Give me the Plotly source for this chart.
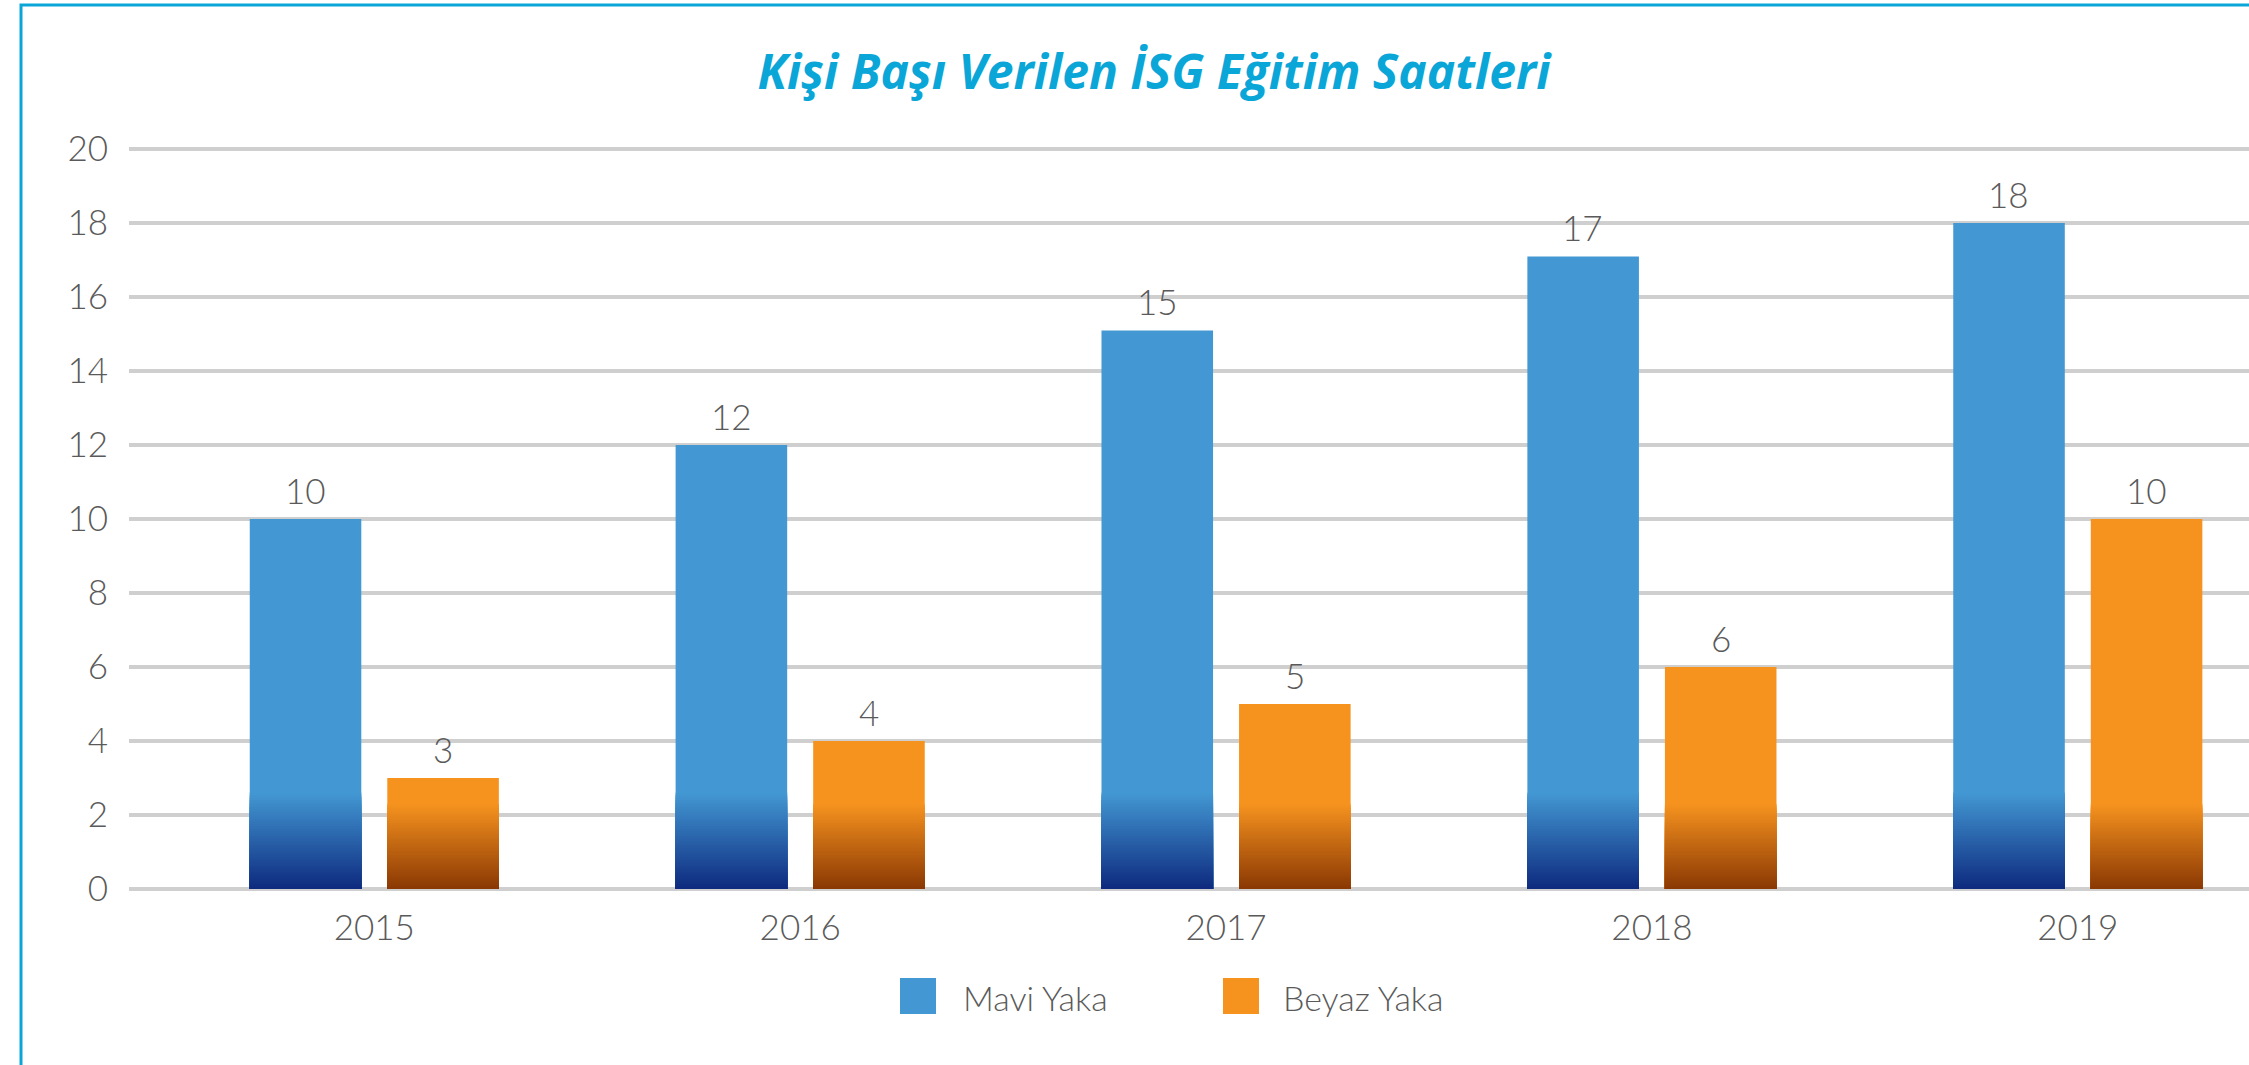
import plotly.graph_objects as go

# ---- data ----
years = ["2015", "2016", "2017", "2018", "2019"]
mavi_yaka = [10, 12, 15.1, 17.1, 18]
beyaz_yaka = [3, 4, 5, 6, 10]
series_names = ["Mavi Yaka", "Beyaz Yaka"]
title_text = "Kişi Başı Verilen İSG Eğitim Saatleri"
y_ticks = [0, 2, 4, 6, 8, 10, 12, 14, 16, 18, 20]

# ---- style ----
W, H = 2249, 1065
ML, MR, MT, MB = 129, 0, 148, 176
PW, PH = W - ML - MR, H - MT - MB
BLUE, BLUE_DARK = "#4398D3", "#0E2A7E"
ORANGE, ORANGE_DARK = "#F6931F", "#8A3804"
GRID = "#CFCFCF"
TXT = "#5A5A5A"
CYAN = "#0BA6D8"
TICKFONT = dict(family="Lato, Open Sans, sans-serif", size=35, color=TXT, weight=300)
N_SEG = 40


def hex2rgb(h):
    h = h.lstrip("#")
    return tuple(int(h[i:i + 2], 16) for i in (0, 2, 4))


def mix(c1, c2, t):
    a, b = hex2rgb(c1), hex2rgb(c2)
    return "rgb(%d,%d,%d)" % tuple(round(a[i] + (b[i] - a[i]) * t) for i in range(3))


def px_x(px):
    return (px - ML) / PW


def px_y(py):
    return (MT + PH - py) / PH


fig = go.Figure()

specs = [
    (series_names[0], mavi_yaka, BLUE, BLUE_DARK, 2.6, "a", -69),
    (series_names[1], beyaz_yaka, ORANGE, ORANGE_DARK, 2.3, "b", 69),
]

for name, vals, col, dark, gh, grp, xs in specs:
    fig.add_trace(go.Bar(
        x=years, y=vals, name=name, offsetgroup=grp,
        marker=dict(color=col, line=dict(width=0)),
        showlegend=False, hoverinfo="x+y+name",
    ))
    # bottom gradient, drawn tallest (light) first, shorter (dark) on top
    for k in reversed(range(N_SEG)):
        top = gh * (k + 1) / N_SEG
        t = (k + 0.5) / N_SEG
        fig.add_trace(go.Bar(
            x=years, y=[min(top, v) for v in vals], base=[0] * len(vals),
            offsetgroup=grp, marker=dict(color=mix(dark, col, t), line=dict(width=0)),
            showlegend=False, hoverinfo="skip",
        ))
    for i, v in enumerate(vals):
        fig.add_annotation(
            x=i, y=v, text="{:.0f}".format(v), showarrow=False, xshift=xs, yshift=29,
            yanchor="middle", font=TICKFONT,
        )

# frame
fig.add_shape(type="rect", xref="paper", yref="paper",
              x0=px_x(21), x1=px_x(2400), y0=px_y(1200), y1=px_y(5),
              line=dict(color=CYAN, width=3), fillcolor="rgba(0,0,0,0)", layer="below")

# custom legend
leg = [(series_names[0], BLUE, 900, 961), (series_names[1], ORANGE, 1223, 1281)]
for name, col, sx, tx in leg:
    fig.add_shape(type="rect", xref="paper", yref="paper",
                  x0=px_x(sx), x1=px_x(sx + 36), y0=px_y(1014), y1=px_y(978),
                  line=dict(width=0), fillcolor=col)
    fig.add_annotation(xref="paper", yref="paper", x=px_x(tx), y=px_y(997),
                       text=name, showarrow=False, xanchor="left", yanchor="middle",
                       font=dict(family="Lato, Open Sans, sans-serif", size=34, color=TXT, weight=300))

fig.update_layout(
    width=W, height=H,
    margin=dict(l=ML, r=MR, t=MT, b=MB, pad=0),
    paper_bgcolor="white", plot_bgcolor="white",
    barmode="group", bargap=0.354, bargroupgap=0.189,
    showlegend=False,
    title=dict(text=title_text, x=1154 / W, xanchor="center", y=1 - 72 / H, yanchor="middle",
               font=dict(family="Open Sans, sans-serif", size=48,
                         color=CYAN, weight=700, style="italic")),
    xaxis=dict(type="category", range=[-0.576, 4.402], showgrid=False, zeroline=False,
               showline=False, ticks="", tickfont=TICKFONT, ticklabelstandoff=15),
    yaxis=dict(range=[0, 20.03], tickvals=y_ticks, showgrid=True, gridcolor=GRID, gridwidth=4,
               zeroline=True, zerolinecolor=GRID, zerolinewidth=4, showline=False,
               ticks="", tickfont=TICKFONT, ticklabelstandoff=20),
)

fig.write_html("out.html", config={"displayModeBar": False},
               post_script="document.body.style.margin='0';document.body.style.padding='0';")
